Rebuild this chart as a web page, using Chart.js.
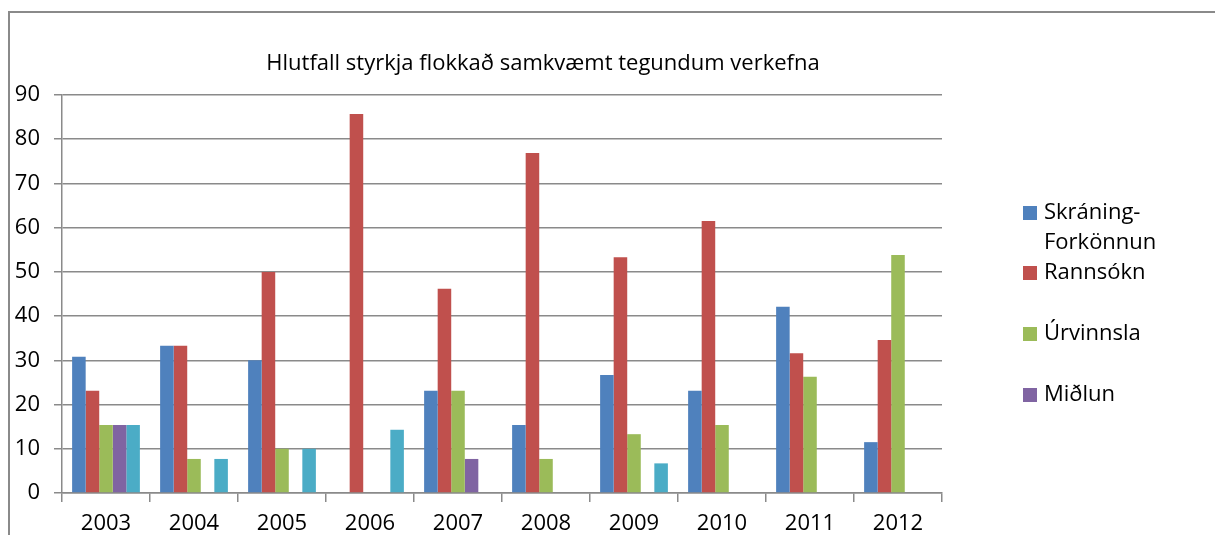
<!DOCTYPE html>
<html>
<head>
<meta charset="utf-8">
<script src="https://cdn.jsdelivr.net/npm/chart.js@4/dist/chart.umd.min.js"></script>
<style>
html,body{margin:0;padding:0;background:#fff;}
#wrap{position:relative;width:1215px;height:535px;}
</style>
</head>
<body>
<div id="wrap"><canvas id="c" width="1215" height="535"></canvas></div>
<script>
const title = "Hlutfall styrkja flokkað samkvæmt tegundum verkefna";
const categories = ["2003","2004","2005","2006","2007","2008","2009","2010","2011","2012"];
const seriesNames = ["Skráning-Forkönnun","Rannsókn","Úrvinnsla","Miðlun","Annað"];
const skraning = [30.8, 33.3, 30, 0, 23.1, 15.4, 26.7, 23.1, 42.1, 11.5];
const rannsokn = [23.1, 33.3, 50, 85.7, 46.2, 76.9, 53.3, 61.5, 31.6, 34.6];
const urvinnsla = [15.4, 7.7, 10, 0, 23.1, 7.7, 13.3, 15.4, 26.3, 53.8];
const midlun = [15.4, 0, 0, 0, 7.7, 0, 0, 0, 0, 0];
const annad = [15.4, 7.7, 10, 14.3, 0, 0, 6.7, 0, 0, 0];
const yTicks = [0,10,20,30,40,50,60,70,80,90];
const legendLabels = [["Skráning-","Forkönnun"],["Rannsókn"],["Úrvinnsla"],["Miðlun"]];

const colors = ["#4F81BD","#C0504D","#9BBB59","#8064A2","#4BACC6"];
const FONT = "'Open Sans', sans-serif";

const values = [skraning, rannsokn, urvinnsla, midlun, annad];
const datasets = values.map((v,i)=>({
  label: seriesNames[i],
  data: v,
  backgroundColor: colors[i],
  borderWidth: 0,
  categoryPercentage: 0.77,
  barPercentage: 1.0
}));

const decor = {
  id: 'decor',
  afterDraw(chart){
    const ctx = chart.ctx;
    ctx.save();
    ctx.strokeStyle = '#8a8a8a';
    ctx.lineWidth = 2;
    ctx.beginPath();
    ctx.moveTo(9, 535);
    ctx.lineTo(9, 12);
    ctx.lineTo(1215, 12);
    ctx.stroke();
    ctx.fillStyle = '#000';
    ctx.font = "22px " + FONT;
    ctx.textAlign = 'center';
    ctx.textBaseline = 'middle';
    ctx.fillText(title, 543, 64);
    ctx.font = "22px " + FONT;
    ctx.textAlign = 'left';
    const ys = [213, 273, 334, 395];
    legendLabels.forEach((lines, i)=>{
      const y = ys[i];
      ctx.fillStyle = colors[i];
      ctx.fillRect(1023, y-7, 14, 14);
      ctx.fillStyle = '#000';
      lines.forEach((t, k)=>{
        ctx.fillText(t, 1044, y + k*30);
      });
    });
    ctx.restore();
  }
};

new Chart(document.getElementById('c'), {
  type: 'bar',
  data: { labels: categories, datasets },
  options: {
    responsive: false,
    animation: false,
    layout: { padding: { left: 0, top: 95, right: 273, bottom: 0 } },
    plugins: { legend: { display: false }, title: { display: false }, tooltip: { enabled: false } },
    scales: {
      x: {
        grid: { offset: true, drawOnChartArea: false, drawTicks: true, tickLength: 9, color: '#8a8a8a', lineWidth: 1.5 },
        border: { color: '#8a8a8a', width: 1.5 },
        ticks: { color: '#000', font: { family: FONT, size: 22 }, padding: 9, maxRotation: 0 },
        afterFit(s){ s.height = 42; }
      },
      y: {
        min: 0, max: 90,
        afterBuildTicks(s){ s.ticks = yTicks.map(v=>({value:v})); },
        grid: { color: '#8a8a8a', lineWidth: 1.5, tickLength: 8 },
        border: { color: '#8a8a8a', width: 1.5 },
        ticks: { color: '#000', font: { family: FONT, size: 22 }, padding: 14 },
        afterFit(s){ s.width = 62; }
      }
    }
  },
  plugins: [decor]
});
</script>
</body>
</html>
